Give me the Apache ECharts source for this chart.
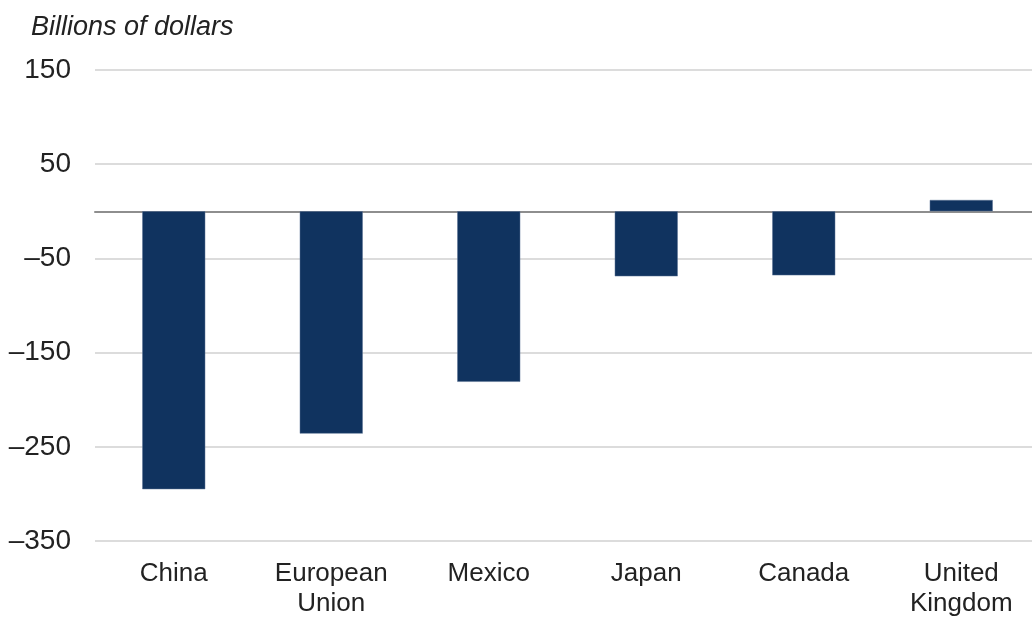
<!DOCTYPE html>
<html>
<head>
<meta charset="utf-8">
<script src="https://cdn.jsdelivr.net/npm/echarts@6/dist/echarts.min.js"></script>
<style>
html,body{margin:0;padding:0;background:#fff;}
#chart{width:1032px;height:619px;}
</style>
</head>
<body>
<div id="chart"></div>
<script>
var categories = ['China', 'European\nUnion', 'Mexico', 'Japan', 'Canada', 'United\nKingdom'];
var balance = [-295, -236, -181, -69, -68, 12];
var yMin = -350, yMax = 150, yStep = 50;
var unitLabel = 'Billions of dollars';

var FONT = '"Liberation Sans", Arial, sans-serif';
var chart = echarts.init(document.getElementById('chart'), null, {renderer: 'canvas'});
chart.setOption({
  animation: false,
  backgroundColor: '#ffffff',
  title: {
    text: unitLabel,
    left: 26, top: 9,
    textStyle: {fontFamily: FONT, fontStyle: 'italic', fontWeight: 'normal', fontSize: 27, color: '#222222'}
  },
  grid: {left: 95, width: 945, top: 70, bottom: 78, containLabel: false, outerBoundsMode: 'none'},
  xAxis: {
    type: 'category',
    data: categories,
    axisTick: {show: false},
    axisLine: {show: true, onZero: true, lineStyle: {color: '#8e8e8e', width: 2}},
    axisLabel: {
      fontFamily: FONT, fontSize: 26, color: '#222222', lineHeight: 30,
      margin: 18, interval: 0,
      position: 'bottom'
    }
  },
  yAxis: {
    type: 'value',
    min: yMin, max: yMax, interval: yStep,
    axisLine: {show: false},
    axisTick: {show: false},
    axisLabel: {
      fontFamily: FONT, fontSize: 28, color: '#222222', margin: 24,
      formatter: function (v) {
        if ((v - yMin) % 100 !== 0) return '';
        return String(v).replace('-', '\u2013');
      }
    },
    splitLine: {show: true, lineStyle: {color: ['#dcdcdc', 'rgba(0,0,0,0)'], width: 2}}
  },
  series: [{
    type: 'bar',
    data: balance,
    barWidth: 63,
    itemStyle: {color: '#10335f', borderColor: '#5a7394', borderWidth: 0.5},
    z: 3
  }]
});
</script>
</body>
</html>
